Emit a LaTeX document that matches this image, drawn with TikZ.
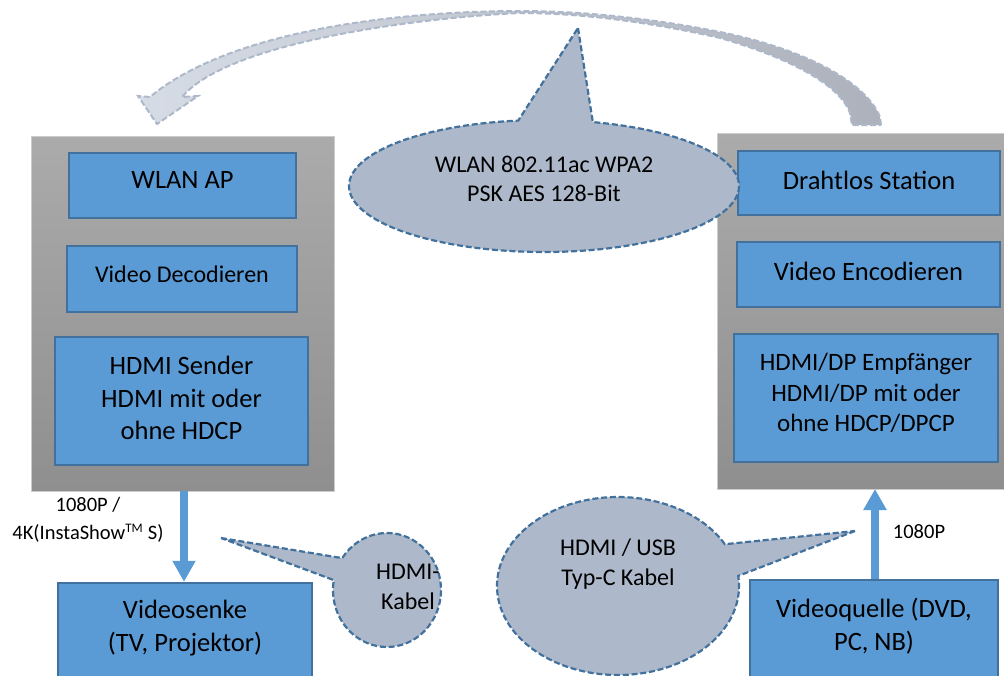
\documentclass[tikz,border=0pt]{standalone}
\usepackage{fontspec}
\setmainfont{Carlito}
\usetikzlibrary{calc,shapes.geometric,arrows.meta}
\definecolor{boxblue}{HTML}{5B9BD5}
\definecolor{boxedge}{HTML}{41719C}
\definecolor{bubblefill}{HTML}{ADB9CA}
\definecolor{bubbleedge}{HTML}{41719C}
\definecolor{palefill}{HTML}{D6DCE5}
\definecolor{greyfill}{HTML}{ADB1BB}
\tikzset{
  panel/.style={draw=black!20,line width=0.8pt,top color=black!33,middle color=black!34,bottom color=black!44},
  bluebox/.style={draw=boxedge,line width=2.4pt,fill=boxblue,inner sep=0pt},
  boxtext/.style={align=center,text=black,inner sep=0pt,font=\fontsize{26.5}{32.5}\selectfont},
  midtext/.style={boxtext,font=\fontsize{24}{30}\selectfont},
  recvtext/.style={boxtext,font=\fontsize{25}{30.5}\selectfont},
  bubble/.style={draw=bubbleedge,fill=bubblefill,line width=2.2pt,dash pattern=on 6pt off 2.8pt,line join=miter},
  bubbletext/.style={align=center,inner sep=0pt,font=\fontsize{24}{29.5}\selectfont},
  smalltext/.style={align=center,inner sep=0pt,font=\fontsize{20.5}{28}\selectfont},
  flow/.style={draw=boxblue,line width=8pt,-{Triangle[length=21pt,width=22pt]}}
}
% name, text style, text, x1, x2, y1, y2, text y
\newcommand{\boxat}[8]{\node[bluebox,minimum width=#5-#4,minimum height=#7-#6] (#1) at ({(#4+#5)/2},{(#6+#7)/2}) {};
  \node[#2] (#1t) at ({(#4+#5)/2},#8) {#3};}
\begin{document}
\begin{tikzpicture}[x=1pt,y=-1pt]
\useasboundingbox (0,0) rectangle (1004,675);
% panels
\path[panel] (31,136) rectangle (334,491);
\path[panel] (717,133) rectangle (1006,489);
\coordinate (leftpanelS) at (184,491);
\coordinate (rightpanelS) at (875,489);
% curved arrow
\path[draw=bubblefill,line width=2pt,dash pattern=on 6pt off 2.6pt,left color=palefill,right color=greyfill]
  (881,125) -- (880,117)
  .. controls (865,80) and (800,48) .. (720,32)
  .. controls (650,18) and (580,11) .. (520,11)
  .. controls (400,11) and (230,30) .. (150,97)
  -- (138,96) -- (157,124) -- (198,96) -- (182,97)
  .. controls (230,40) and (430,17) .. (520,13)
  .. controls (580,13) and (650,22) .. (720,38)
  .. controls (790,58) and (840,85) .. (850,113)
  -- (852,125) -- cycle;
% blue boxes
\boxat{ap}{boxtext}{WLAN AP}{69}{296}{153}{218}{180}
\boxat{dec}{midtext}{Video Decodieren}{67}{297}{246}{312}{274}
\boxat{send}{boxtext}{HDMI Sender\\HDMI mit oder\\ohne HDCP}{55}{308}{337}{465}{398}
\boxat{sta}{boxtext}{Drahtlos Station}{738}{1000}{151}{215}{180}
\boxat{enc}{boxtext}{Video Encodieren}{737}{1000}{242}{307}{271}
\boxat{recv}{recvtext}{HDMI/DP Empfänger\\HDMI/DP mit oder\\ohne HDCP/DPCP}{734}{998}{334}{462}{393}
\boxat{sink}{boxtext}{Videosenke\\(TV, Projektor)}{58}{312}{583}{690}{628}
\boxat{src}{boxtext}{Videoquelle (DVD,\\PC, NB)}{750}{998}{580}{690}{626}
% flows
\draw[flow] (leftpanelS) -- (sink.north -| leftpanelS);
\draw[flow] (src.north -| rightpanelS) -- (rightpanelS);
% bubbles
\coordinate (wc) at (544,186);
\coordinate (hc) at (387,590);
\coordinate (uc) at (618,586);
\coordinate (wt) at (578,28);
\coordinate (ht) at (221,538);
\coordinate (ut) at (855,531);
\path[bubble] (wt) -- ([shift={(-75.5:195 and 66)}]wc) arc[start angle=-75.5,end angle=262.4,x radius=195,y radius=66] -- cycle;
\path[bubble] (ht) -- ([shift={(214:54 and 57)}]hc) arc[start angle=214,end angle=550,x radius=54,y radius=57] -- cycle;
\path[bubble] (ut) -- ([shift={(-6.5:121 and 89)}]uc) arc[start angle=-6.5,end angle=332,x radius=121,y radius=89] -- cycle;
% labels
\node[bubbletext] (wl) at (544,179) {WLAN 802.11ac WPA2\\PSK AES 128-Bit};
\node[bubbletext] (hl) at (408,587) {HDMI-\\Kabel};
\node[bubbletext] (ul) at (618,564) {HDMI / USB\\Typ-C Kabel};
\node[smalltext] (l1) at (88,520) {1080P /\\4K(InstaShow\textsuperscript{\fontsize{13}{13}\selectfont TM} S)};
\node[smalltext] (l2) at (919,532) {1080P};
\end{tikzpicture}
\end{document}
